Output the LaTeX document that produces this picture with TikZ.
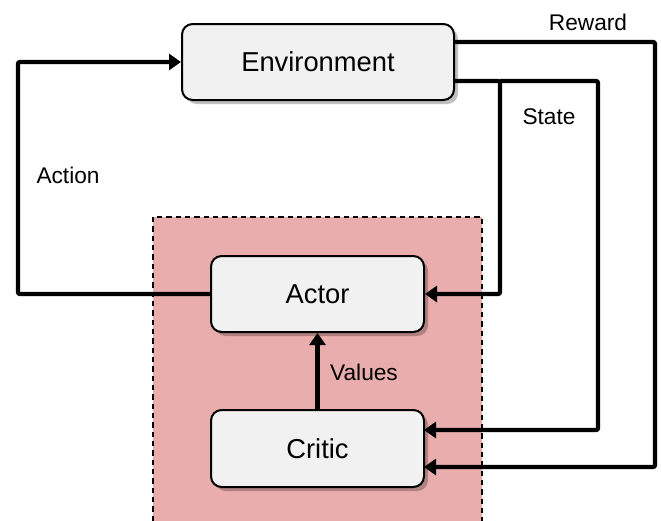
\documentclass[tikz,border=0pt]{standalone}
\usepackage{fontspec}
\setmainfont{Liberation Sans}
\usetikzlibrary{arrows.meta,shadows}
\definecolor{boxfill}{HTML}{F1F1F1}
\definecolor{regionfill}{HTML}{EAADAD}
\begin{document}
\begin{tikzpicture}[x=0.75pt,y=-0.75pt,
  blockbox/.style={draw=black,line width=1.5pt,fill=boxfill,rounded corners=8pt,
    minimum width=272*0.75pt,minimum height=76*0.75pt,inner sep=0pt,
    font=\fontsize{20.5}{23}\selectfont,
    drop shadow={shadow xshift=3pt,shadow yshift=-3pt,fill=black,opacity=0.25}},
  conn/.style={line width=3.2pt,rounded corners=1.5pt,-{Triangle[length=9pt,width=12pt]}},
  lbl/.style={font=\fontsize{17}{19}\selectfont,inner sep=0pt}]
\useasboundingbox (0,0) rectangle (661,521);
% agent region
\fill[regionfill] (153,217) rectangle (482,521);
\draw[dashed,line width=1pt,dash pattern=on 4pt off 3pt] (153,521) -- (153,217) -- (482,217) -- (482,521);
% nodes
\node[blockbox] (env) at (318,62) {Environment};
\node[blockbox,minimum width=213*0.75pt] (actor) at (317.5,294) {Actor};
\node[blockbox,minimum width=213*0.75pt,minimum height=77*0.75pt] (critic) at (317.5,448.5) {Critic};
% coordinates
\coordinate (a1) at (18,294);
\coordinate (a2) at (18,62);
\coordinate (s0) at (454,81);
\coordinate (s1) at (500,81);
\coordinate (s2) at (598,81);
\coordinate (s3) at (598,430);
\coordinate (c1) at (424,430);
\coordinate (r0) at (454,42);
\coordinate (r1) at (655,42);
\coordinate (r2) at (655,467);
\coordinate (c2) at (424,467);
% connectors
\draw[conn] (actor.west) -- (a1) -- (a2) -- (env.west);
\draw[conn] (s0) -- (s1) |- (actor.east);
\draw[conn] (s1) -- (s2) -- (s3) -- (c1);
\draw[conn] (r0) -- (r1) -- (r2) -- (c2);
\draw[conn] (critic.north) -- (actor.south);
% labels
\node[lbl] (lreward) at (588,22) {Reward};
\node[lbl] (lstate) at (549,117) {State};
\node[lbl] (laction) at (68,175) {Action};
\node[lbl] (lvalues) at (364,372) {Values};
\end{tikzpicture}
\end{document}
